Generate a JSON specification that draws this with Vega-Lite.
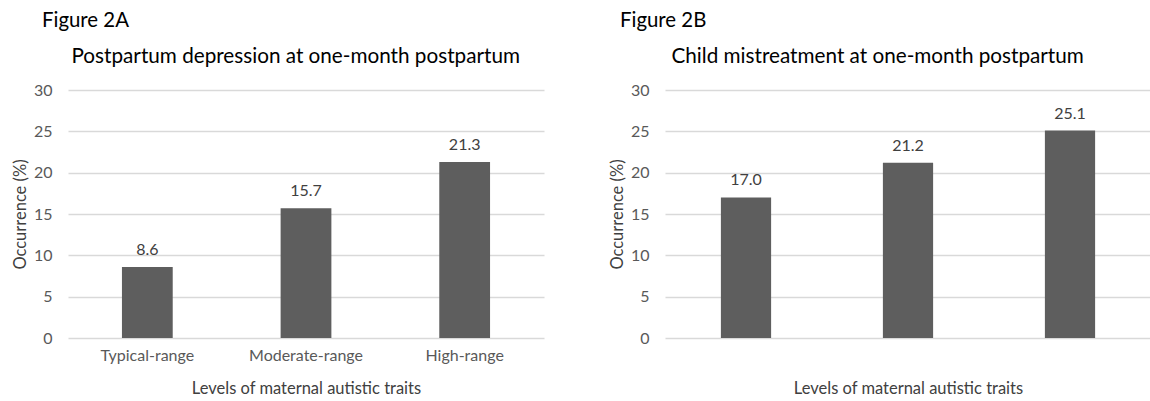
{
  "$schema": "https://vega.github.io/schema/vega-lite/v6.json",
  "padding": {"left": 12, "top": 10, "right": 0, "bottom": 0},
  "autosize": {"type": "pad"},
  "spacing": 65,
  "config": {
    "font": "Lato",
    "view": {"stroke": null},
    "axis": {
      "labelFont": "Lato", "titleFont": "Lato",
      "labelColor": "#595959", "titleColor": "#404040",
      "labelFontSize": 16, "titleFontSize": 16.5, "titleFontWeight": "normal",
      "domain": false, "ticks": false,
      "gridColor": "#d9d9d9", "gridWidth": 1.3
    },
    "title": {"font": "Lato", "fontSize": 20.4, "fontWeight": "normal", "color": "#000000", "anchor": "start", "frame": "group", "offset": 14}
  },
  "datasets": {
    "a": [
      {"level": "Typical-range", "pct": 8.6},
      {"level": "Moderate-range", "pct": 15.7},
      {"level": "High-range", "pct": 21.3}
    ],
    "b": [
      {"level": "Typical-range", "pct": 17.0},
      {"level": "Moderate-range", "pct": 21.2},
      {"level": "High-range", "pct": 25.1}
    ]
  },
  "hconcat": [
    {
      "width": 476, "height": 248,
      "title": {"text": "Figure 2A", "dx": -26},
      "data": {"name": "a"},
      "resolve": {"axis": {"x": "independent"}},
      "encoding": {
        "x": {"field": "level", "type": "nominal", "sort": null, "scale": {"paddingInner": 0.68, "paddingOuter": 0.34}},
        "y": {"field": "pct", "type": "quantitative", "scale": {"domain": [0, 30]},
              "axis": {"values": [0, 5, 10, 15, 20, 25, 30], "title": "Occurrence (%)", "labelPadding": 16, "titlePadding": 5, "grid": true}}
      },
      "layer": [
        {
          "mark": {"type": "bar", "color": "#5e5e5e"},
          "encoding": {
            "x": {"field": "level", "type": "nominal", "sort": null,
                  "axis": {"orient": "bottom", "labelAngle": 0, "labelPadding": 9, "title": "Levels of maternal autistic traits", "titlePadding": 17, "grid": false}}
          }
        },
        {
          "mark": {"type": "text", "baseline": "bottom", "dy": -9, "fontSize": 16, "color": "#404040", "font": "Lato"},
          "encoding": {
            "text": {"field": "pct", "type": "quantitative", "format": ".1f"},
            "x": {"field": "level", "type": "nominal", "sort": null,
                  "axis": {"orient": "top", "labels": false, "grid": false, "title": "Postpartum depression at one-month postpartum", "titleFontSize": 20.7, "titleColor": "#000000", "titlePadding": 24, "titleAnchor": "start", "titleAlign": "left", "titleX": 3}}
          }
        }
      ]
    },
    {
      "width": 486, "height": 248,
      "title": {"text": "Figure 2B", "dx": -45},
      "data": {"name": "b"},
      "resolve": {"axis": {"x": "independent"}},
      "encoding": {
        "x": {"field": "level", "type": "nominal", "sort": null, "scale": {"paddingInner": 0.69, "paddingOuter": 0.345}},
        "y": {"field": "pct", "type": "quantitative", "scale": {"domain": [0, 30]},
              "axis": {"values": [0, 5, 10, 15, 20, 25, 30], "title": "Occurrence (%)", "labelPadding": 16, "titlePadding": 5, "grid": true}}
      },
      "layer": [
        {
          "mark": {"type": "bar", "color": "#5e5e5e"},
          "encoding": {
            "x": {"field": "level", "type": "nominal", "sort": null,
                  "axis": {"orient": "bottom", "labels": false, "title": "Levels of maternal autistic traits", "titlePadding": 42, "grid": false}}
          }
        },
        {
          "mark": {"type": "text", "baseline": "bottom", "dy": -9, "fontSize": 16, "color": "#404040", "font": "Lato"},
          "encoding": {
            "text": {"field": "pct", "type": "quantitative", "format": ".1f"},
            "x": {"field": "level", "type": "nominal", "sort": null,
                  "axis": {"orient": "top", "labels": false, "grid": false, "title": "Child mistreatment at one-month postpartum", "titleFontSize": 20.7, "titleColor": "#000000", "titlePadding": 24, "titleAnchor": "start", "titleAlign": "left", "titleX": 6}}
          }
        }
      ]
    }
  ]
}
